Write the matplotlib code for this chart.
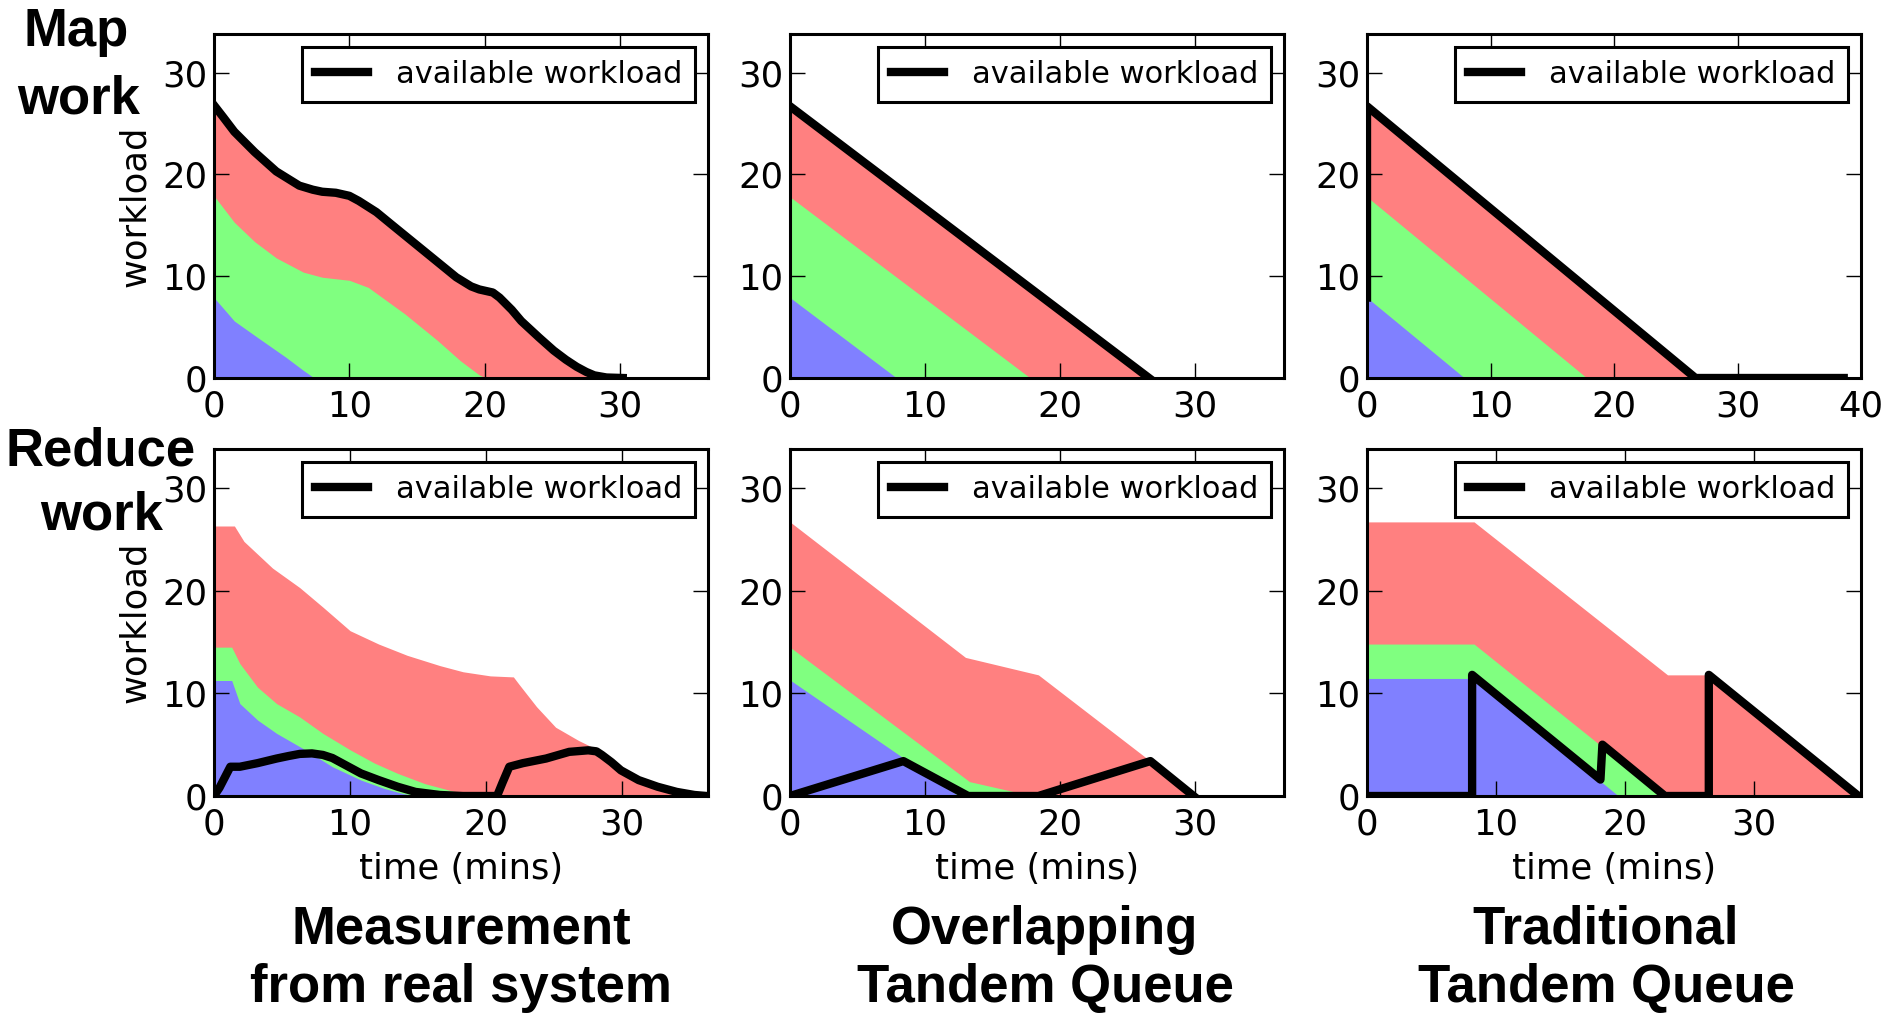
import matplotlib
matplotlib.use("Agg")
import matplotlib.pyplot as plt

BLUE = "#8080ff"
GREEN = "#80ff80"
RED = "#ff8080"

# ---- Map work, measurement from real system ----
m1_tot_t = [0, 0.7, 1.5, 3.0, 4.6, 6.3, 7.3, 8.0, 9.0, 10.0, 10.7, 12.0, 13.1, 15.5, 17.9, 19.0, 19.6, 20.6, 21.1, 22.0, 22.7, 24.0, 25.1, 26.0, 26.8, 27.5, 28.1, 29.0, 30.2]
m1_tot_v = [26.8, 25.6, 24.2, 22.2, 20.3, 18.9, 18.5, 18.3, 18.2, 17.9, 17.4, 16.3, 15.1, 12.5, 9.9, 9.0, 8.7, 8.4, 7.9, 6.7, 5.6, 4.0, 2.7, 1.8, 1.1, 0.6, 0.26, 0.05, 0]
m1_grn_t = [0, 1.5, 3.0, 4.6, 6.6, 8.0, 10.0, 11.4, 14.1, 16.5, 18.2, 19.6, 20.1]
m1_grn_v = [17.9, 15.3, 13.4, 11.8, 10.4, 9.9, 9.6, 8.9, 6.3, 3.7, 1.7, 0.3, 0]
m1_blu_t = [0, 1.5, 3.2, 5.3, 6.6, 7.3, 7.6]
m1_blu_v = [7.9, 5.6, 4.0, 2.05, 0.75, 0.1, 0]

# ---- Map work, overlapping tandem queue ----
m2_tot_t = [0, 26.6]
m2_tot_v = [26.7, 0]
m2_grn_t = [0, 17.8]
m2_grn_v = [17.8, 0]
m2_blu_t = [0, 7.9]
m2_blu_v = [7.9, 0]

# ---- Map work, traditional tandem queue ----
m3_tot_t = [0, 26.6]
m3_tot_v = [26.7, 0]
m3_grn_t = [0, 17.8]
m3_grn_v = [17.8, 0]
m3_blu_t = [0, 7.9]
m3_blu_v = [7.9, 0]
m3_line_t = [0, 0, 26.6, 38.6]
m3_line_v = [7.9, 26.7, 0, 0]

# ---- Reduce work, measurement from real system ----
r1_red_t = [0, 1.5, 2.2, 4.3, 6.3, 8.0, 10.0, 12.1, 14.2, 16.6, 18.3, 20.3, 22.0, 22.4, 23.7, 25.1, 26.8, 28.2, 29.5, 31.2, 32.6, 33.6, 34.3]
r1_red_v = [26.3, 26.3, 24.8, 22.2, 20.3, 18.4, 16.1, 14.8, 13.7, 12.7, 12.1, 11.7, 11.6, 10.9, 8.7, 6.7, 5.4, 4.5, 3.2, 1.9, 0.9, 0.26, 0]
r1_grn_t = [0, 1.3, 1.9, 3.2, 4.6, 6.3, 8.0, 10.0, 11.8, 13.5, 15.5, 17.2, 18.6, 19.0]
r1_grn_v = [14.5, 14.5, 12.9, 10.6, 9.0, 7.7, 6.1, 4.5, 3.2, 2.2, 1.2, 0.6, 0.1, 0]
r1_blu_t = [0, 1.3, 1.9, 3.2, 4.6, 6.7, 8.7, 10.8, 12.5, 13.8, 14.8]
r1_blu_v = [11.25, 11.25, 9.0, 7.4, 6.1, 4.5, 2.85, 1.55, 0.74, 0.26, 0]
r1_line_t = [0, 0.4, 1.2, 1.9, 3.2, 4.6, 5.5, 6.3, 7.2, 8.0, 8.7, 9.4, 10.8, 12.1, 13.5, 14.8, 16.6, 18.3, 20.8, 21.2, 21.7, 22.7, 24.4, 26.1, 27.5, 28.1, 28.5, 29.2, 29.9, 31.2, 32.6, 34.0, 35.3, 36.2]
r1_line_v = [0, 0.8, 2.85, 2.85, 3.2, 3.65, 3.9, 4.1, 4.15, 4.0, 3.7, 3.2, 2.2, 1.55, 0.9, 0.4, 0.1, 0, 0, 1.3, 2.85, 3.2, 3.65, 4.3, 4.45, 4.35, 4.0, 3.3, 2.5, 1.55, 0.9, 0.4, 0.1, 0]

# ---- Reduce work, overlapping tandem queue ----
r2_red_t = [0, 13.0, 18.4, 26.6, 29.8]
r2_red_v = [26.7, 13.5, 11.8, 3.5, 0]
r2_grn_t = [0, 13.3, 18.0]
r2_grn_v = [14.5, 1.4, 0]
r2_blu_t = [0, 12.5]
r2_blu_v = [11.3, 0]
r2_line_t = [0, 8.4, 13.2, 18.4, 26.7, 29.9]
r2_line_v = [0, 3.4, 0, 0, 3.4, 0]

# ---- Reduce work, traditional tandem queue ----
r3_red_t = [0, 8.3, 23.3, 26.5, 38.1]
r3_red_v = [26.7, 26.7, 11.8, 11.8, 0]
r3_grn_t = [0, 8.3, 23.0]
r3_grn_v = [14.8, 14.8, 0]
r3_blu_t = [0, 8.3, 19.5]
r3_blu_v = [11.45, 11.45, 0]
r3_line_t = [0, 8.15, 8.15, 18.1, 18.25, 23.1, 26.5, 26.5, 38.1]
r3_line_v = [0, 0, 11.8, 1.6, 5.0, 0, 0, 11.8, 0]

xlims = [[36.5, 36.6, 40.0], [36.3, 36.6, 38.3]]
xticks = [[[0, 10, 20, 30], [0, 10, 20, 30], [0, 10, 20, 30, 40]],
          [[0, 10, 20, 30], [0, 10, 20, 30], [0, 10, 20, 30]]]
yticks = [0, 10, 20, 30]

row_titles = [["Map", "work"], ["Reduce", "work"]]
col_titles = [["Measurement", "from real system"],
              ["Overlapping", "Tandem Queue"],
              ["Traditional", "Tandem Queue"]]

W, H = 1887, 1016
fig = plt.figure(figsize=(W / 100, H / 100), dpi=100)

col_left = [214, 790, 1367]
col_w = 494
row_top = [34, 449]
row_h = [344, 347]

panels = [
    [(m1_tot_t, m1_tot_v, m1_grn_t, m1_grn_v, m1_blu_t, m1_blu_v, m1_tot_t, m1_tot_v),
     (m2_tot_t, m2_tot_v, m2_grn_t, m2_grn_v, m2_blu_t, m2_blu_v, m2_tot_t, m2_tot_v),
     (m3_tot_t, m3_tot_v, m3_grn_t, m3_grn_v, m3_blu_t, m3_blu_v, m3_line_t, m3_line_v)],
    [(r1_red_t, r1_red_v, r1_grn_t, r1_grn_v, r1_blu_t, r1_blu_v, r1_line_t, r1_line_v),
     (r2_red_t, r2_red_v, r2_grn_t, r2_grn_v, r2_blu_t, r2_blu_v, r2_line_t, r2_line_v),
     (r3_red_t, r3_red_v, r3_grn_t, r3_grn_v, r3_blu_t, r3_blu_v, r3_line_t, r3_line_v)],
]

for r in range(2):
    for c in range(3):
        ax = fig.add_axes([col_left[c] / W, 1 - (row_top[r] + row_h[r]) / H,
                           col_w / W, row_h[r] / H])
        rt, rv, gt, gv, bt, bv, lt, lv = panels[r][c]
        ax.fill_between(rt, rv, color=RED, lw=0)
        ax.fill_between(gt, gv, color=GREEN, lw=0)
        ax.fill_between(bt, bv, color=BLUE, lw=0)
        ax.plot(lt, lv, color="black", lw=6, label="available workload",
                solid_joinstyle="round")
        ax.set_xlim(0, xlims[r][c])
        ax.set_ylim(0, 33.8)
        ax.set_xticks(xticks[r][c])
        ax.set_yticks(yticks)
        ax.tick_params(direction="in", top=True, right=True, length=11,
                       width=1.0, labelsize=25.5)
        ax.tick_params(axis="x", pad=8)
        ax.tick_params(axis="y", pad=5)
        for s in ax.spines.values():
            s.set_linewidth(2.2)
        leg = ax.legend(loc="upper right", fontsize=22, fancybox=False,
                        framealpha=1, borderpad=0.42, handlelength=1.75,
                        handletextpad=0.9, borderaxespad=0.42)
        leg.get_frame().set_edgecolor("black")
        leg.get_frame().set_linewidth(2.2)
        if c == 0:
            ax.set_ylabel("workload", fontsize=25.5)
            ax.yaxis.set_label_coords(-0.125, 0.5)
        if r == 1:
            ax.set_xlabel("time (mins)", fontsize=25.5, labelpad=8)

bold = dict(family=["Liberation Sans", "DejaVu Sans"], fontweight="bold",
            fontsize=38, ha="center", va="baseline")

# row titles
fig.text(76 / W, 1 - 46 / H, row_titles[0][0], **bold)
fig.text(79 / W, 1 - 113 / H, row_titles[0][1], **bold)
fig.text(101 / W, 1 - 465 / H, row_titles[1][0], **bold)
fig.text(102 / W, 1 - 529 / H, row_titles[1][1], **bold)

# column titles
col_cx = [461, 1045, 1606]
for c in range(3):
    fig.text(col_cx[c] / W, 1 - 944 / H, col_titles[c][0], **bold)
    fig.text(col_cx[c] / W, 1 - 1002 / H, col_titles[c][1], **bold)

fig.savefig("out.png", dpi=100)
